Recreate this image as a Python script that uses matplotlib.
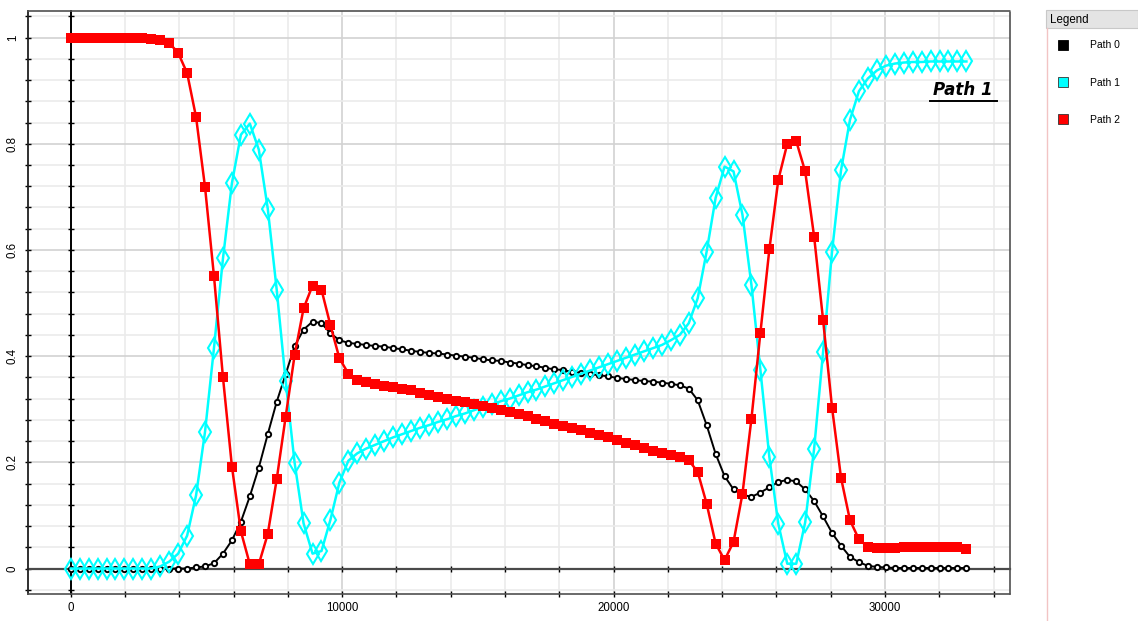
import numpy as np
import matplotlib
matplotlib.use('Agg')
import matplotlib.pyplot as plt
from matplotlib.ticker import MultipleLocator, FuncFormatter
from matplotlib.lines import Line2D
from matplotlib.patches import Rectangle

# ---------------- data ----------------
x_values = np.arange(0, 33001, 330)

path0 = [0.0] * 14 + [
    0.002, 0.004, 0.010, 0.028, 0.053, 0.088, 0.136, 0.190, 0.253, 0.314,
    0.366, 0.419, 0.450, 0.465, 0.462, 0.443, 0.430, 0.425, 0.423, 0.421,
    0.419, 0.418, 0.415, 0.413, 0.410, 0.408, 0.406, 0.405, 0.403, 0.401,
    0.399, 0.397, 0.394, 0.392, 0.391, 0.388, 0.386, 0.383, 0.381, 0.378,
    0.375, 0.374, 0.370, 0.369, 0.366, 0.364, 0.362, 0.359, 0.357, 0.355,
    0.353, 0.352, 0.350, 0.348, 0.345, 0.339, 0.317, 0.270, 0.216, 0.174,
    0.149, 0.139, 0.135, 0.143, 0.153, 0.163, 0.167, 0.164, 0.149, 0.127,
    0.098, 0.067, 0.043, 0.022, 0.012, 0.005, 0.003, 0.002] + [0.001] * 9

path1 = [0.0] * 10 + [
    0.004, 0.013, 0.028, 0.062, 0.138, 0.258, 0.416, 0.584, 0.726, 0.817,
    0.838, 0.789, 0.678, 0.525, 0.353, 0.199, 0.085, 0.028, 0.033, 0.092,
    0.162, 0.203, 0.217, 0.226, 0.233, 0.240, 0.247, 0.253, 0.259, 0.265,
    0.270, 0.276, 0.281, 0.287, 0.292, 0.298, 0.304, 0.309, 0.315, 0.320,
    0.326, 0.332, 0.337, 0.343, 0.349, 0.355, 0.361, 0.367, 0.373, 0.379,
    0.385, 0.391, 0.397, 0.403, 0.409, 0.415, 0.421, 0.430, 0.440, 0.462,
    0.509, 0.597, 0.698, 0.757, 0.748, 0.666, 0.534, 0.374, 0.210, 0.084,
    0.009, 0.009, 0.087, 0.226, 0.408, 0.597, 0.750, 0.845, 0.899, 0.923,
    0.938, 0.947, 0.951, 0.953, 0.954, 0.954, 0.955, 0.955, 0.955, 0.955,
    0.955]

path2 = [1.0] * 8 + [
    0.999, 0.998, 0.996, 0.990, 0.971, 0.933, 0.850, 0.718, 0.550, 0.360,
    0.192, 0.070, 0.008, 0.008, 0.065, 0.168, 0.286, 0.402, 0.490, 0.533,
    0.525, 0.458, 0.396, 0.367, 0.355, 0.352, 0.347, 0.343, 0.341, 0.339,
    0.336, 0.331, 0.326, 0.323, 0.320, 0.316, 0.313, 0.309, 0.306, 0.303,
    0.299, 0.295, 0.291, 0.287, 0.282, 0.278, 0.273, 0.268, 0.265, 0.260,
    0.256, 0.251, 0.247, 0.242, 0.237, 0.232, 0.227, 0.221, 0.217, 0.213,
    0.210, 0.204, 0.182, 0.122, 0.047, 0.016, 0.050, 0.141, 0.282, 0.444,
    0.601, 0.732, 0.800, 0.805, 0.748, 0.625, 0.468, 0.303, 0.171, 0.091,
    0.055, 0.041, 0.038, 0.038, 0.038, 0.040, 0.040, 0.040, 0.040, 0.040,
    0.040, 0.040, 0.037]

series_names = ['Path 0', 'Path 1', 'Path 2']
series_colors = ['#000000', '#00ffff', '#ff0000']
x_major_ticks = [0, 10000, 20000, 30000]
y_major_ticks = [0, 0.2, 0.4, 0.6, 0.8, 1.0]
annotation_text = 'Path 1'
legend_title = 'Legend'

# ---------------- figure ----------------
W, H = 1138, 621
fig = plt.figure(figsize=(W / 100, H / 100), dpi=100)
fig.patch.set_facecolor('white')

L, R, T, B = 28, 1010, 10.5, 594
ax = fig.add_axes([L / W, 1 - B / H, (R - L) / W, (B - T) / H])
xlim = (-1573, 34606)
ylim = (-0.048, 1.051)
ax.set_xlim(*xlim)
ax.set_ylim(*ylim)

ax.set_xticks(x_major_ticks)
ax.set_yticks(y_major_ticks)
ax.xaxis.set_minor_locator(MultipleLocator(2000))
ax.yaxis.set_minor_locator(MultipleLocator(0.04))
fmt = FuncFormatter(lambda v, p: '%g' % round(v, 6))
ax.xaxis.set_major_formatter(fmt)
ax.yaxis.set_major_formatter(fmt)

ax.set_axisbelow(True)
ax.grid(which='minor', color='#ebebeb', lw=1.2)
ax.grid(which='major', color='#d2d2d2', lw=1.2)

tick_font = 'Liberation Sans'
ax.tick_params(axis='both', which='both', direction='inout', length=5,
               width=1.0, color='black', top=False, right=False)
ax.tick_params(axis='x', which='major', labelsize=8.3, pad=3)
ax.tick_params(axis='y', which='major', labelsize=8.3, pad=4, labelrotation=90)
for lab in ax.get_xticklabels():
    lab.set_fontfamily(tick_font)
for lab in ax.get_yticklabels():
    lab.set_fontfamily(tick_font)
    lab.set_verticalalignment('center')

for side in ['top', 'right', 'bottom']:
    ax.spines[side].set_linestyle((0, (1.0, 1.0)))
    ax.spines[side].set_color('#505050')
    ax.spines[side].set_linewidth(1.2)
ax.spines['left'].set_color('#202020')
ax.spines['left'].set_linewidth(1.3)

# zero lines with their own ticks
x0 = (0 - xlim[0]) / (xlim[1] - xlim[0])
y0 = (0 - ylim[0]) / (ylim[1] - ylim[0])
secy = ax.secondary_yaxis(x0)
secy.yaxis.set_major_locator(MultipleLocator(0.2))
secy.yaxis.set_minor_locator(MultipleLocator(0.04))
secy.tick_params(which='both', direction='inout', length=5, width=1.0,
                 labelleft=False, labelright=False)
secy.spines['left'].set_color('black')
secy.spines['left'].set_linewidth(1.4)
secy.set_zorder(1)

secx = ax.secondary_xaxis(y0)
secx.xaxis.set_major_locator(MultipleLocator(10000))
secx.xaxis.set_minor_locator(MultipleLocator(2000))
secx.tick_params(which='both', direction='inout', length=5, width=1.0,
                 labelbottom=False, labeltop=False)
secx.spines['bottom'].set_color('#4a4a4a')
secx.spines['bottom'].set_linewidth(1.6)
secx.set_zorder(1)

# series
ax.plot(x_values, path0, color=series_colors[0], lw=1.4, marker='o', ms=3.8,
        mfc='white', mec=series_colors[0], mew=1.4, zorder=3)
ax.plot(x_values, path1, color=series_colors[1], lw=1.8, marker='d', ms=10.5,
        mfc='none', mec=series_colors[1], mew=1.5, zorder=4)
ax.plot(x_values, path2, color=series_colors[2], lw=1.8, marker='s', ms=6.7,
        mfc=series_colors[2], mec=series_colors[2], mew=0, zorder=5)

# annotation "Path 1"
fig.text(993 / W, 1 - 90 / H, annotation_text, ha='right', va='center',
         fontsize=12, fontweight='bold', fontstyle='italic',
         family='DejaVu Sans', color='black')
fig.add_artist(Line2D([930 / W, 997 / W], [1 - 100.5 / H, 1 - 100.5 / H],
                      transform=fig.transFigure, color='black', lw=1.4))

# legend panel
fig.add_artist(Rectangle((1045.5 / W, 1 - 28 / H), (W - 1045.5) / W, 18 / H,
                         transform=fig.transFigure, facecolor='#e4e4e4',
                         edgecolor='#c8c8c8', lw=0.8))
fig.text(1050 / W, 1 - 19.5 / H, legend_title, ha='left', va='center',
         fontsize=8.3, family='Liberation Sans', color='black')
fig.add_artist(Line2D([1046.5 / W, 1046.5 / W], [0, 1 - 28 / H],
                      transform=fig.transFigure, color='#f2c4c4', lw=1.0))

handles = [Line2D([], [], linestyle='none', marker='s', ms=7,
                  mfc=c, mec='#333333' if i else c, mew=0.6)
           for i, c in enumerate(series_colors)]
fig.legend(handles, series_names, loc='upper left',
           bbox_to_anchor=(1058 / W, 1 - 40.5 / H), frameon=False,
           prop={'family': 'Liberation Sans', 'size': 7.5},
           handlelength=1.0, handletextpad=2.1, labelspacing=2.6,
           borderaxespad=0, borderpad=0)

fig.savefig('out.png', dpi=100, facecolor='white')
